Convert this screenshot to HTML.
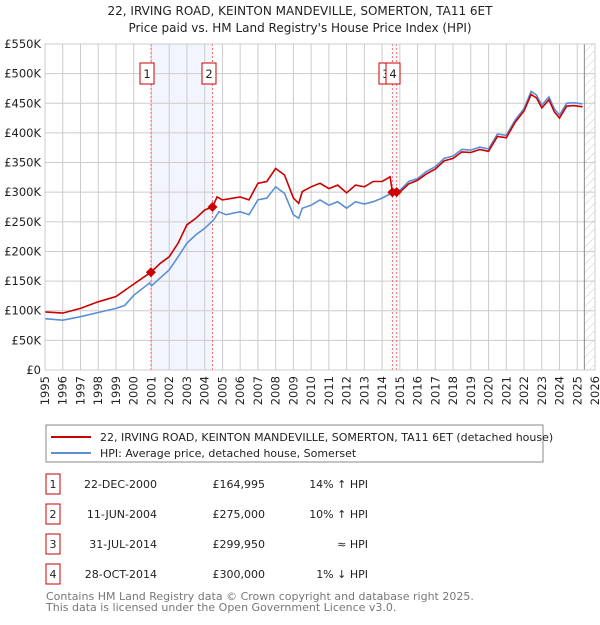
<!DOCTYPE html>
<html><head><meta charset="utf-8"><style>
body{margin:0;background:#fff;font-family:"Liberation Sans","DejaVu Sans",sans-serif;}
svg text{font-family:"DejaVu Sans","Liberation Sans",sans-serif;}
</style></head><body>
<svg id="c" width="600" height="620" xmlns="http://www.w3.org/2000/svg"></svg>
<script>
const hpiYears=[1995,1996,1997,1998,1999,1999.5,2000,2000.9,2001,2002,2002.5,2003,2003.5,2004,2004.5,2004.8,2005.2,2006,2006.5,2007,2007.5,2008,2008.5,2009,2009.3,2009.5,2010,2010.5,2011,2011.5,2012,2012.5,2013,2013.5,2014,2014.5,2015,2015.5,2016,2016.5,2017,2017.5,2018,2018.5,2019,2019.5,2020,2020.5,2021,2021.5,2022,2022.4,2022.7,2023,2023.4,2023.7,2024,2024.4,2024.8,2025.3];
const hpiValues=[86.6,84,90,97,104,109,126,147,142,169,191,214,228,239,253,267,262,267,262,287,290,309,298,262,256,273,278,287,278,284,273,284,280,284,290,298,303,318,323,335,343,357,361,372,371,376,373,398,396,422,441,470,464,447,461,441,430,450,451,449];
const redYears=[1995,1996,1997,1998,1999,2000,2000.97,2001.5,2002,2002.5,2003,2003.5,2004,2004.44,2004.7,2005,2006,2006.5,2007,2007.5,2008,2008.5,2009,2009.3,2009.5,2010,2010.5,2011,2011.5,2012,2012.5,2013,2013.5,2014,2014.45,2014.58,2014.82,2015,2015.5,2016,2016.5,2017,2017.5,2018,2018.5,2019,2019.5,2020,2020.5,2021,2021.5,2022,2022.4,2022.7,2023,2023.4,2023.7,2024,2024.4,2024.8,2025.3];
const redValues=[98,96,104,115,124,145,165,180,191,214,245,256,270,275,292,287,292,287,315,318,340,329,290,281,301,309,315,306,312,299,312,309,318,318,326,300,300,300,314,320,331,339,353,357,368,367,372,369,394,392,418,437,465,459,442,456,436,425,445,446,444];
const saleYears=[2000.97,2004.44,2014.58,2014.82];
const saleValues=[165,275,299.95,300];
const saleLabels=["1","2","3","4"];
const yTicks=[0,50,100,150,200,250,300,350,400,450,500,550];
const yTickLabels=["£0","£50K","£100K","£150K","£200K","£250K","£300K","£350K","£400K","£450K","£500K","£550K"];
const xTicks=[1995,1996,1997,1998,1999,2000,2001,2002,2003,2004,2005,2006,2007,2008,2009,2010,2011,2012,2013,2014,2015,2016,2017,2018,2019,2020,2021,2022,2023,2024,2025,2026];

const svg=document.getElementById('c');const NS="http://www.w3.org/2000/svg";
const X0=45,X1=595,Y0=370,Y1=44;
const xs=y=>X0+(y-1995)/(2026-1995)*(X1-X0);
const ys=v=>Y0-v/550*(Y0-Y1);
function mk(t,a,p){const e=document.createElementNS(NS,t);for(const k in a)e.setAttribute(k,a[k]);(p||svg).appendChild(e);return e;}
function txt(s,a){const e=mk('text',a);e.textContent=s;return e;}
const defs=mk('defs',{});
const pat=mk('pattern',{id:'h',width:6,height:6,patternUnits:'userSpaceOnUse',patternTransform:'rotate(45)'},defs);
mk('line',{x1:0,y1:0,x2:0,y2:6,stroke:'#ccc','stroke-width':1},pat);
let t=txt('22, IRVING ROAD, KEINTON MANDEVILLE, SOMERTON, TA11 6ET',{x:300,y:15,'text-anchor':'middle','font-size':12,fill:'#222'});

t=txt("Price paid vs. HM Land Registry's House Price Index (HPI)",{x:300,y:32,'text-anchor':'middle','font-size':12,fill:'#222'});

let r=mk('rect',{x:xs(saleYears[0]),y:Y1,width:xs(saleYears[1])-xs(saleYears[0]),height:Y0-Y1,fill:'#f2f5fd'});

r=mk('rect',{x:xs(saleYears[2]),y:Y1,width:xs(saleYears[3])-xs(saleYears[2]),height:Y0-Y1,fill:'#f2f5fd'});

r=mk('rect',{x:xs(2025.4),y:Y1,width:X1-xs(2025.4),height:Y0-Y1,fill:'url(#h)'});

yTicks.forEach((v,i)=>{const l=mk('line',{x1:X0,x2:X1,y1:ys(v),y2:ys(v),stroke:'#ccc','stroke-width':1});

const tt=txt(yTickLabels[i],{x:X0-4,y:ys(v)+4,'text-anchor':'end','font-size':11.5,fill:'#222'});
});
xTicks.forEach(y=>{const l=mk('line',{x1:xs(y),x2:xs(y),y1:Y1,y2:Y0,stroke:'#ccc','stroke-width':1});

const tt=txt(String(y),{x:0,y:0,'text-anchor':'end','font-size':11.5,fill:'#222',transform:`translate(${xs(y)+4},${Y0+6}) rotate(-90)`});
});
let l=mk('line',{x1:xs(2025.4),x2:xs(2025.4),y1:Y1,y2:Y0,stroke:'#888','stroke-width':1});

saleYears.forEach(y=>{const e=mk('line',{x1:xs(y),x2:xs(y),y1:Y1,y2:Y0,stroke:'#f07070','stroke-width':1,'stroke-dasharray':'2,2'});
});
function pts(a,b){return a.map((y,i)=>xs(y).toFixed(1)+','+ys(b[i]).toFixed(1)).join(' ');}
let p=mk('polyline',{points:pts(hpiYears,hpiValues),fill:'none',stroke:'#5b8fd4','stroke-width':1.6});

p=mk('polyline',{points:pts(redYears,redValues),fill:'none',stroke:'#cc0000','stroke-width':1.6});

saleYears.forEach((y,i)=>{const cx=xs(y),cy=ys(saleValues[i]);
const d=mk('polygon',{points:`${cx},${cy-5} ${cx+5},${cy} ${cx},${cy+5} ${cx-5},${cy}`,fill:'#cc0000'});
});
const boxX=[140,202,379,386];
saleLabels.forEach((s,i)=>{const g=mk('g',{});
mk('rect',{x:boxX[i],y:63,width:14,height:21,fill:'#fff',stroke:'#cc0000','stroke-width':1},g);
const tt=mk('text',{x:boxX[i]+7,y:78,'text-anchor':'middle','font-size':11.5,fill:'#222'},g);tt.textContent=s;});
let b=mk('rect',{x:X0,y:Y1,width:X1-X0,height:Y0-Y1,fill:'none',stroke:'#ccc'});

const lg=mk('g',{});
mk('rect',{x:46,y:425,width:497,height:37,fill:'#fff',stroke:'#888'},lg);
mk('line',{x1:51,x2:91,y1:437,y2:437,stroke:'#cc0000','stroke-width':2},lg);
mk('line',{x1:51,x2:91,y1:453,y2:453,stroke:'#5b8fd4','stroke-width':2},lg);
let e=mk('text',{x:100,y:441,'font-size':11,fill:'#222'},lg);e.textContent='22, IRVING ROAD, KEINTON MANDEVILLE, SOMERTON, TA11 6ET (detached house)';
e=mk('text',{x:100,y:457,'font-size':11,fill:'#222'},lg);e.textContent='HPI: Average price, detached house, Somerset';
const dates=["22-DEC-2000","11-JUN-2004","31-JUL-2014","28-OCT-2014"];
const prices=["£164,995","£275,000","£299,950","£300,000"];
const rel=["14% ↑ HPI","10% ↑ HPI","≈ HPI","1% ↓ HPI"];
const rowY=[483,513,543,573];
dates.forEach((d,i)=>{const g=mk('g',{});
mk('rect',{x:46,y:rowY[i]-9,width:14,height:20,fill:'#fff',stroke:'#cc0000'},g);
let q=mk('text',{x:53,y:rowY[i]+5,'text-anchor':'middle','font-size':11,fill:'#222'},g);q.textContent=String(i+1);
q=mk('text',{x:157,y:rowY[i]+5,'text-anchor':'end','font-size':11,fill:'#222'},g);q.textContent=d;
q=mk('text',{x:265,y:rowY[i]+5,'text-anchor':'end','font-size':11,fill:'#222'},g);q.textContent=prices[i];
q=mk('text',{x:368,y:rowY[i]+5,'text-anchor':'end','font-size':11,fill:'#222'},g);q.textContent=rel[i];});
e=txt('Contains HM Land Registry data © Crown copyright and database right 2025.',{x:46,y:600,'font-size':11,fill:'#777'});

e=txt('This data is licensed under the Open Government Licence v3.0.',{x:46,y:611,'font-size':11,fill:'#777'});

</script>
</body></html>
